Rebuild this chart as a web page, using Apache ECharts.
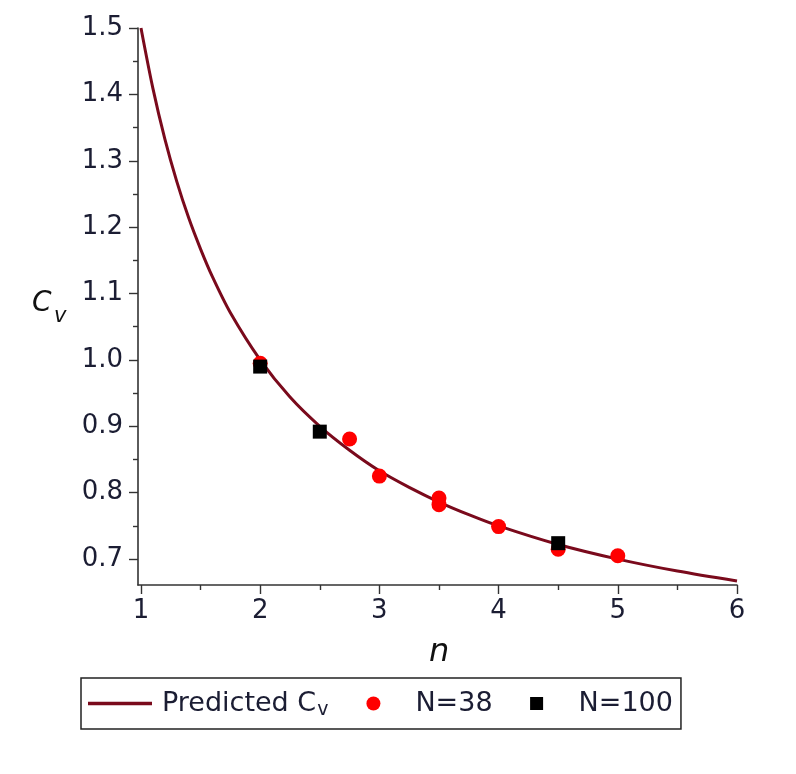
<!DOCTYPE html>
<html>
<head>
<meta charset="utf-8">
<script src="https://cdn.jsdelivr.net/npm/echarts@6/dist/echarts.min.js"></script>
<style>
  html, body { margin: 0; padding: 0; background: #fff; }
  #chart { width: 796px; height: 774px; }
</style>
</head>
<body>
<div id="chart"></div>
<script>
// Predicted heat-capacity curve, sampled along n
const curveN  = [1, 1.1, 1.2, 1.3, 1.4, 1.5, 1.6, 1.75, 2, 2.25, 2.5, 2.75, 3, 3.25, 3.5, 3.75, 4, 4.5, 5, 5.5, 6];
const curveCv = [1.5, 1.409, 1.333, 1.269, 1.214, 1.167, 1.125, 1.071, 1.0, 0.944, 0.9, 0.864, 0.833, 0.808, 0.786, 0.767, 0.75, 0.722, 0.70, 0.682, 0.667];

// Simulation results, N = 38
const n38  = [2, 2.75, 3, 3.5, 3.5, 4, 4.5, 5];
const cv38 = [0.995, 0.881, 0.825, 0.792, 0.782, 0.749, 0.715, 0.705];

// Simulation results, N = 100
const n100  = [2, 2.5, 4.5];
const cv100 = [0.99, 0.892, 0.724];

// Axis ticks
const xMajor = [1, 2, 3, 4, 5, 6];
const xMinor = [1.5, 2.5, 3.5, 4.5, 5.5];
const yMajor = [0.7, 0.8, 0.9, 1.0, 1.1, 1.2, 1.3, 1.4, 1.5];
const yMinor = [0.75, 0.85, 0.95, 1.05, 1.15, 1.25, 1.35, 1.45];

const zip = (a, b) => a.map((v, i) => [v, b[i]]);

const FONT = 'DejaVu Sans';
const LABEL_COLOR = '#1b1d33';
const AXIS_COLOR = '#333';
const CURVE_COLOR = '#7a0a1c';

// legend glyphs: tiny corner specks pin the path's bounding box to the full icon cell
const ICON_LINE = 'path://M0,0H0.01V0.01H0Z M0,5.2H64V8.8H0Z M63.99,13.99H64V14H63.99Z';
const ICON_SQUARE = 'path://M0,0H0.01V0.01H0Z M25.5,0.5H38.5V13.5H25.5Z M63.99,13.99H64V14H63.99Z';

const chart = echarts.init(document.getElementById('chart'), null, { renderer: 'canvas' });

const xBase = { type: 'value', min: 0.975, max: 6, gridIndex: 0, position: 'bottom', splitLine: { show: false } };
const yBase = { type: 'value', min: 0.661, max: 1.5, gridIndex: 0, position: 'left', splitLine: { show: false } };

chart.setOption({
  animation: false,
  backgroundColor: '#fff',
  grid: { left: 138, right: 59, top: 28, bottom: 189 },
  xAxis: [
    Object.assign({}, xBase, {
      axisLine: { show: true, onZero: false, lineStyle: { color: AXIS_COLOR, width: 1.6 } },
      axisTick: { show: true, customValues: xMajor, length: 9, lineStyle: { color: AXIS_COLOR, width: 1.4 } },
      axisLabel: {
        customValues: xMajor, margin: 13, color: LABEL_COLOR,
        fontFamily: FONT, fontSize: 26, formatter: v => String(Math.round(v))
      }
    }),
    Object.assign({}, xBase, {
      axisLine: { show: false, onZero: false },
      axisTick: { show: true, customValues: xMinor, length: 5, lineStyle: { color: AXIS_COLOR, width: 1.4 } },
      axisLabel: { show: false }
    })
  ],
  yAxis: [
    Object.assign({}, yBase, {
      axisLine: { show: true, onZero: false, lineStyle: { color: AXIS_COLOR, width: 1.6 } },
      axisTick: { show: true, customValues: yMajor, length: 9, lineStyle: { color: AXIS_COLOR, width: 1.4 } },
      axisLabel: {
        customValues: yMajor, margin: 15, color: LABEL_COLOR,
        fontFamily: FONT, fontSize: 26, formatter: v => v.toFixed(1)
      }
    }),
    Object.assign({}, yBase, {
      axisLine: { show: false, onZero: false },
      axisTick: { show: true, customValues: yMinor, length: 5, lineStyle: { color: AXIS_COLOR, width: 1.4 } },
      axisLabel: { show: false }
    })
  ],
  legend: {
    left: 81, top: 678,
    padding: [9, 8, 9, 7],
    borderColor: '#222', borderWidth: 1.5,
    itemWidth: 64, itemHeight: 14, itemGap: 12,
    selectedMode: false,
    data: [
      { name: 'Predicted Cv', icon: ICON_LINE, itemStyle: { color: CURVE_COLOR } },
      { name: 'N=38', icon: 'circle', itemStyle: { color: '#ff0000' } },
      { name: 'N=100', icon: ICON_SQUARE, itemStyle: { color: '#000' } }
    ],
    formatter: name => name === 'Predicted Cv' ? '{t|Predicted C}{s|v}' : '{t|' + name + '}',
    textStyle: {
      color: LABEL_COLOR, fontFamily: FONT, fontSize: 27,
      rich: {
        t: { fontFamily: FONT, fontSize: 27, color: LABEL_COLOR, lineHeight: 30, padding: [0, 0, 0, 5] },
        s: { fontFamily: FONT, fontSize: 19, color: LABEL_COLOR, lineHeight: 30, padding: [14, 26, 0, 1] }
      }
    }
  },
  graphic: [
    { type: 'text', left: 32, top: 290, style: { text: 'C', font: 'italic 28px "DejaVu Sans"', fill: '#111' } },
    { type: 'text', left: 54, top: 306, style: { text: 'v', font: 'italic 21px "DejaVu Sans"', fill: '#111' } },
    { type: 'text', left: 429, top: 637, style: { text: 'n', font: 'italic 32px "DejaVu Sans"', fill: '#111' } }
  ],
  series: [
    {
      name: 'Predicted Cv', type: 'line', xAxisIndex: 0, yAxisIndex: 0,
      data: zip(curveN, curveCv),
      smooth: 0.3,
      showSymbol: false, symbol: 'none',
      lineStyle: { color: CURVE_COLOR, width: 3 },
      itemStyle: { color: CURVE_COLOR },
      z: 2
    },
    {
      name: 'N=38', type: 'scatter', xAxisIndex: 0, yAxisIndex: 0,
      data: zip(n38, cv38),
      symbol: 'circle', symbolSize: 15,
      itemStyle: { color: '#ff0000', opacity: 1 },
      z: 3
    },
    {
      name: 'N=100', type: 'scatter', xAxisIndex: 0, yAxisIndex: 0,
      data: zip(n100, cv100),
      symbol: 'rect', symbolSize: 14,
      itemStyle: { color: '#000', opacity: 1 },
      z: 4
    }
  ]
});
</script>
</body>
</html>
